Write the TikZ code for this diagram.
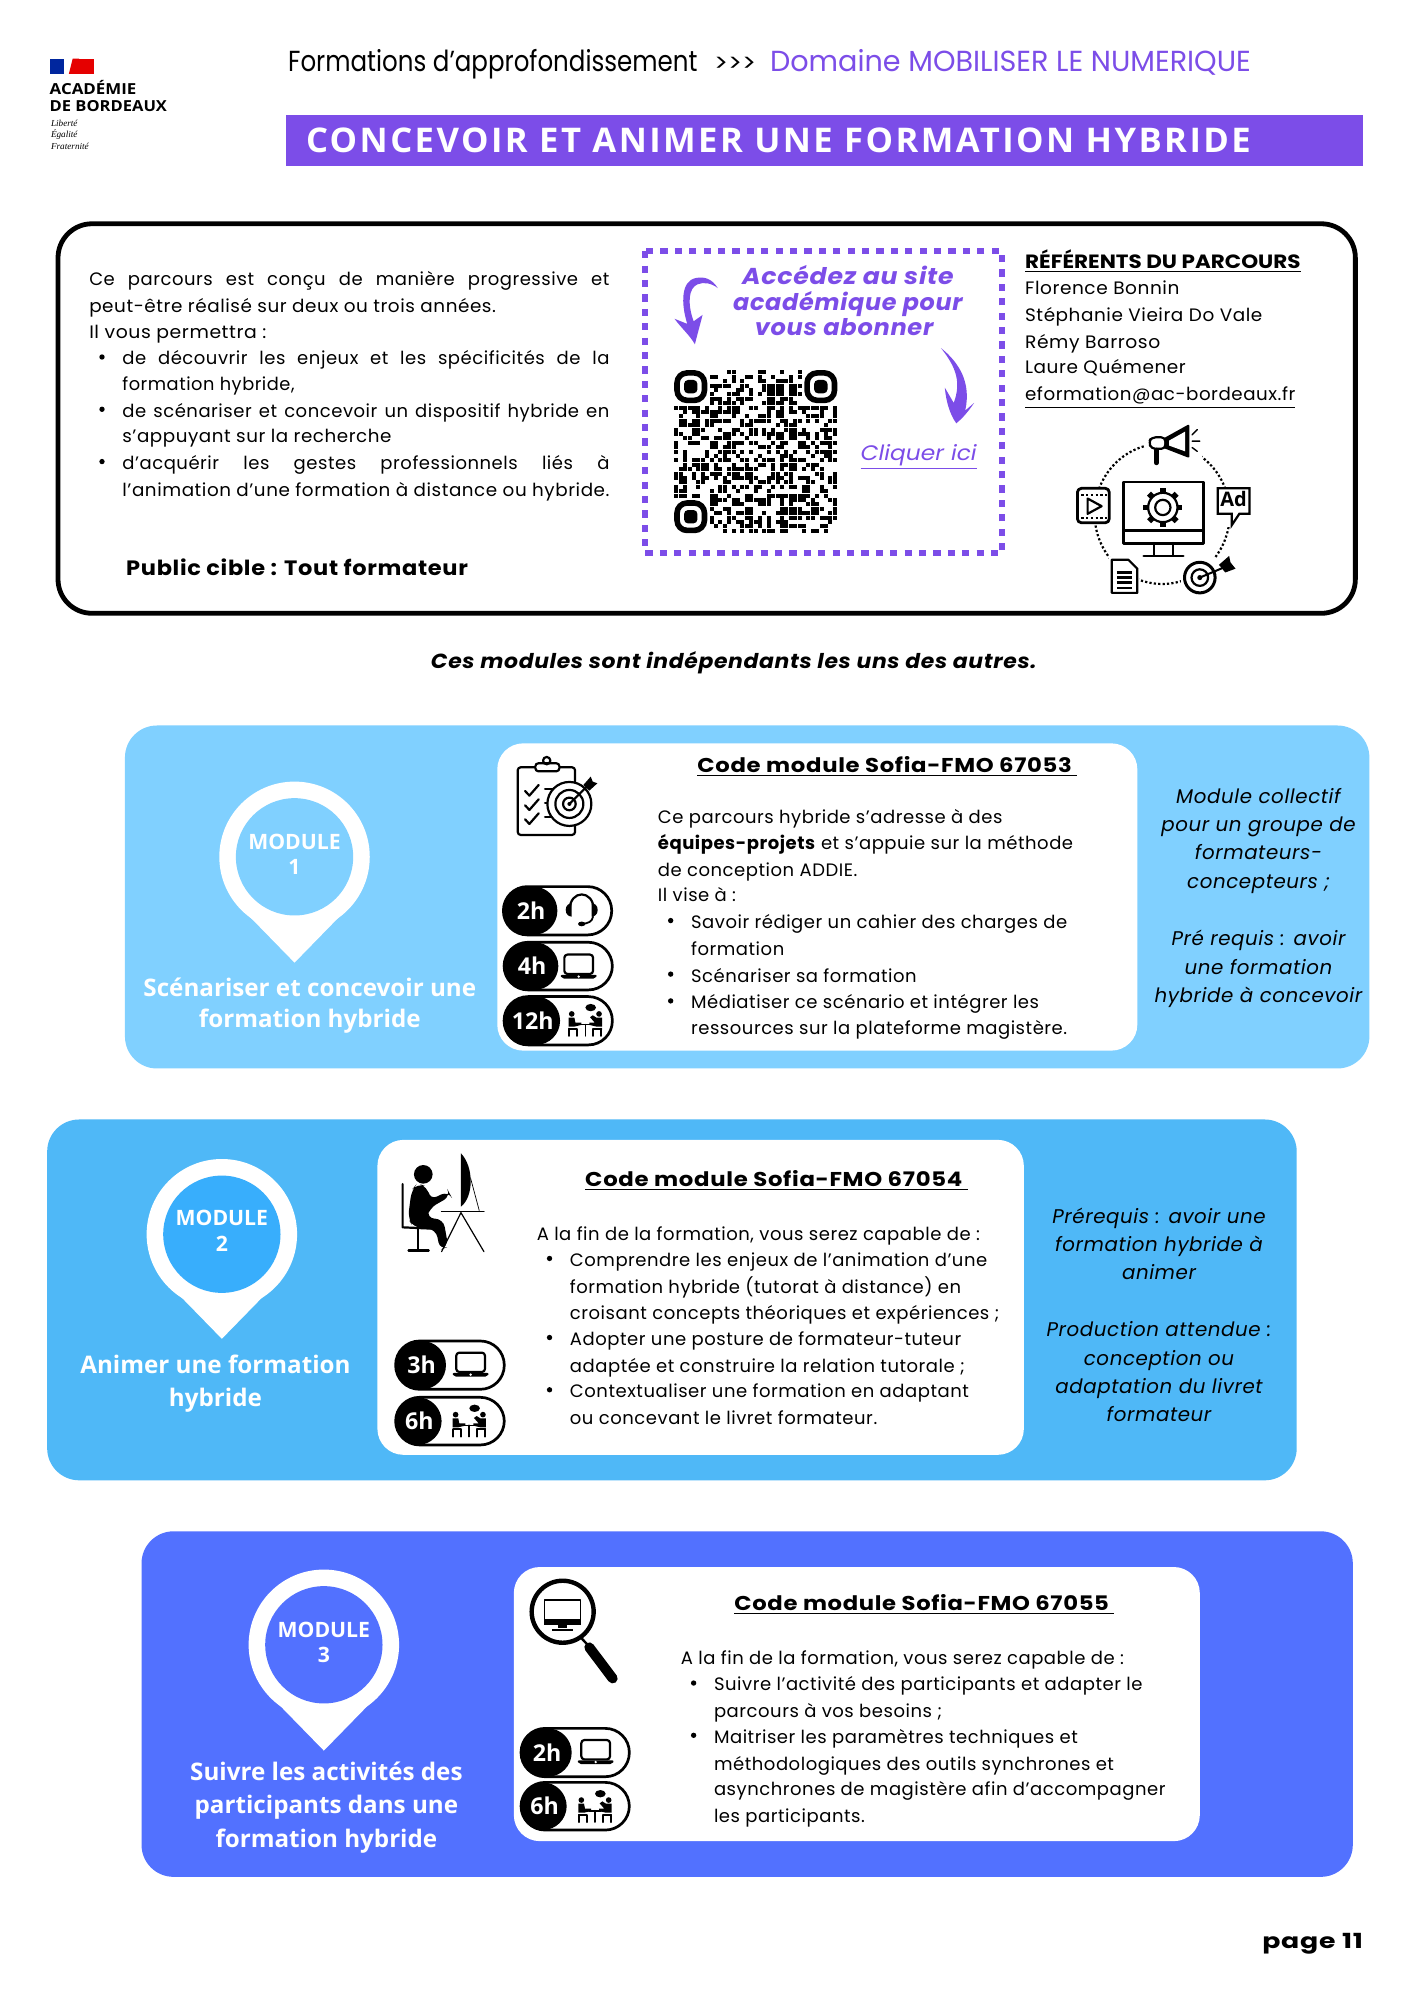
\documentclass[tikz,border=0pt]{standalone}
\usepackage{fontspec}
\usepackage{graphicx}
\setmainfont{Poppins}
\newfontfamily\spaced[LetterSpace=3]{Poppins}
\newfontfamily\wide[LetterSpace=6]{Poppins}
\newfontfamily\banf[LetterSpace=7]{Open Sans}
\newfontfamily\opens{Open Sans}
\newfontfamily\serifl{Liberation Serif}
\usetikzlibrary{calc}
\definecolor{purp}{HTML}{7C4DE8}
\definecolor{cone}{HTML}{80D0FF}
\definecolor{ctwo}{HTML}{4FB8F7}
\definecolor{ctwoin}{HTML}{38AEFC}
\definecolor{cthree}{HTML}{5271FF}
\newdimen\ux \ux=0.6375pt
\newcounter{tn}
\tikzset{
 txt/.style={inner sep=0pt,outer sep=0pt,font=\fontsize{9}{11}\selectfont\spaced,text=black},
 stxt/.style={txt},
 wtitle/.style={txt,text=white,font=\fontsize{12.1}{14}\selectfont\opens\bfseries},
 modtxt/.style={txt,text=white,font=\fontsize{10.6}{12}\selectfont\opens\bfseries},
 side/.style={txt,font=\fontsize{9.9}{11}\selectfont\spaced\itshape},
 card/.style={rounded corners=16pt,draw=none},
 whitecard/.style={fill=white,rounded corners=13pt,draw=none},
 pillline/.style={draw=black,line width=1.35pt,fill=white,rounded corners=12pt},
 blackpart/.style={fill=black,rounded corners=12pt,draw=none},
 ico/.style={line width=1.1pt,draw=black,line cap=round,line join=round},
 thinico/.style={line width=.7pt,draw=black,line cap=round,line join=round},
}
% left aligned, y = line centre
\newcommand\T[4][]{\stepcounter{tn}\node[txt,anchor=base west,#1] (t\thetn) at (#2,{#3+6.2}) {#4};}
% centred
\newcommand\C[4][]{\stepcounter{tn}\node[txt,anchor=base,#1] (t\thetn) at (#2,{#3+6.2}) {#4};}
% justified on a width
\newcommand\J[5][]{\T[#1]{#2}{#3}{\makebox[#4\ux][s]{#5}}}
% text fitted on a width
\newcommand\F[5][]{\T[#1]{#2}{#3}{\resizebox{#4\ux}{\height}{#5}}}
\newcommand\B[2]{\fill (#1,#2) circle (2.1);}
% icons in zoom units
\newcommand\laptop[2]{\begin{scope}[shift={(#1,#2)}]
 \draw[ico,rounded corners=1.5pt] (-43,-36) rectangle (43,22);
 \fill[rounded corners=1pt] (-56,25) -- (56,25) -- (50,36) -- (-50,36) -- cycle;
 \fill[white] (0,30) circle (4);
\end{scope}}
\newcommand\headset[2]{\begin{scope}[shift={(#1,#2)}]
 \draw[ico] (-36,0) .. controls (-36,-62) and (36,-62) .. (36,0);
 \fill (-48,0) .. controls (-48,-14) and (-38,-20) .. (-30,-20) -- (-30,20) .. controls (-38,20) and (-48,14) .. (-48,0) -- cycle;
 \fill (48,0) .. controls (48,-14) and (38,-20) .. (30,-20) -- (30,20) .. controls (38,20) and (48,14) .. (48,0) -- cycle;
 \draw[thinico,line width=.9pt] (34,20) .. controls (32,36) and (18,40) .. (2,42);
 \fill (0,42) ellipse (11 and 7);
\end{scope}}
\newcommand\meeting[2]{\begin{scope}[shift={(#1,#2)}]
 \fill (-41,-18) circle (8.5); \fill (41,-18) circle (8.5);
 \fill (-50,-7) -- (-33,-7) -- (-30,8) -- (-12,8) -- (-12,15) -- (-33,20) -- (-50,20) -- cycle;
 \fill (50,-7) -- (33,-7) -- (22,-14) -- (14,-8) -- (28,8) -- (12,8) -- (12,15) -- (33,20) -- (50,20) -- cycle;
 \draw[thinico,line width=.95pt] (-48,26) -- (-24,26) -- (-24,48);
 \draw[thinico,line width=.95pt] (48,26) -- (24,26) -- (24,48);
 \draw[thinico,line width=.95pt] (-48,26) -- (-48,48);
 \draw[thinico,line width=.95pt] (48,26) -- (48,48);
 \draw[thinico,line width=.8pt] (-18,14) -- (18,14) (0,14) -- (0,48);
 \fill (16,-37) ellipse (16 and 11);
\end{scope}}
% x0 y0 x1 y1 blackend text
\newcommand\pill[6]{
 \draw[pillline] (#1,#2) rectangle (#3,#4);
 \fill[blackpart] (#1,#2) rectangle (#5,#4);
 \stepcounter{tn}
 \node[txt,text=white,font=\fontsize{11.6}{12}\selectfont\opens\bfseries,anchor=center,xshift=.4pt] (t\thetn) at ({(#1+#5)/2},{(#2+#4)/2}) {#6};
}
\begin{document}
\begin{tikzpicture}[x=0.6375pt,y=-0.6375pt]
\useasboundingbox (0,0) rectangle (1109,1568.6);
\fill[white] (0,0) rectangle (1109,1568.6);

%%% logo
\fill[blue!55!black!85!cyan] (39,46) rectangle (50,58);
\fill[red!90!black] (62,46) rectangle (74,58);
\fill[red!90!black] (57,46) -- (62,46) -- (62,58) -- (54,58) -- cycle;
\F[font=\fontsize{7.6}{9}\selectfont\opens\bfseries]{39}{68}{68}{ACADÉMIE}
\F[font=\fontsize{7.6}{9}\selectfont\opens\bfseries]{39}{81}{92}{DE BORDEAUX}
\T[font=\fontsize{4.6}{5}\selectfont\serifl\itshape]{40}{93}{Liberté}
\T[font=\fontsize{4.6}{5}\selectfont\serifl\itshape]{40}{102}{Égalité}
\T[font=\fontsize{4.6}{5}\selectfont\serifl\itshape]{40}{111}{Fraternité}

%%% header
\F[font=\fontsize{14.5}{16}\selectfont]{226}{50}{321}{Formations d’approfondissement}
\F[font=\fontsize{12}{16}\selectfont]{560}{50}{33}{>\kern0pt>\kern0pt>}
\F[font=\fontsize{14.5}{16}\selectfont,text=purp]{604}{50}{377}{Domaine MOBILISER LE NUMERIQUE}
\fill[purp] (224,90) rectangle (1069,130);
\F[font=\fontsize{17}{19}\selectfont\banf\bfseries,text=white]{240}{113.5}{741}{CONCEVOIR ET ANIMER UNE FORMATION HYBRIDE}

%%% main box
\draw[line width=2.4pt,rounded corners=17pt,fill=white] (45.5,175.5) rectangle (1063,481);
\J[stxt]{70}{218}{408}{Ce parcours est conçu de manière progressive et}
\F[stxt]{70}{239}{319}{peut-être réalisé sur deux ou trois années.}
\F[stxt]{70}{259}{139}{Il vous permettra :}
\B{80}{280}\B{80}{321}\B{80}{362}
\J[stxt]{96}{280}{382}{de découvrir les enjeux et les spécificités de la}
\F[stxt]{96}{300}{135}{formation hybride,}
\J[stxt]{96}{321}{382}{de scénariser et concevoir un dispositif hybride en}
\F[stxt]{96}{341}{211}{s’appuyant sur la recherche}
\J[stxt]{96}{362}{382}{d’acquérir les gestes professionnels liés à}
\F[stxt]{96}{383}{382}{l’animation d’une formation à distance ou hybride.}
\F[font=\fontsize{10.4}{12}\selectfont\spaced\bfseries]{99}{445}{268}{Public cible : Tout formateur}

%%% dashed box
\draw[purp,line width=3pt,dash pattern=on 3.6pt off 3.6pt] (506,197) rectangle (786,434);
\F[font=\fontsize{11.5}{14}\selectfont\spaced\bfseries\itshape,text=purp]{582}{217}{166}{Accédez au site}
\F[font=\fontsize{11.5}{14}\selectfont\spaced\bfseries\itshape,text=purp]{575}{237}{180}{académique pour}
\F[font=\fontsize{11.5}{14}\selectfont\spaced\bfseries\itshape,text=purp]{592}{257}{140}{vous abonner}
% curved arrows
\fill[purp] (563,226) .. controls (558,218) and (552,217) .. (546,218) .. controls (534,220) and (534,238) .. (539,254)
 -- (529,250) .. controls (535,258) and (541,263) .. (545,270) .. controls (547,262) and (549,255) .. (551,247) -- (544,252)
 .. controls (539,238) and (540,226) .. (547,223) .. controls (552,221) and (558,222) .. (563,226) -- cycle;
\fill[purp] (738,273) .. controls (752,284) and (762,300) .. (757,322) -- (764,316) .. controls (760,322) and (755,328) .. (750,332)
 .. controls (745,325) and (742,315) .. (741,304) -- (748,316) .. controls (754,300) and (750,288) .. (738,273) -- cycle;

%%% QR
\pgfmathsetseed{4711}
\begin{scope}[shift={(529,290.5)},x=0.6375pt,y=-0.6375pt]
\foreach \i in {0,...,36}{\foreach \j in {0,...,36}{
  \pgfmathsetmacro\rr{rnd}
  \pgfmathtruncatemacro\keep{(\rr<0.55)&&!(\i<8&&\j<8)&&!(\i>28&&\j<8)&&!(\i<8&&\j>28)?1:0}
  \ifnum\keep=1\fill ({\i*3.45},{\j*3.45}) rectangle ({\i*3.45+3.1},{\j*3.45+3.1});\fi
}}
\foreach \a/\b in {0/0,102/0,0/102}{
  \draw[line width=2.8pt,rounded corners=5pt] (\a+2,\b+2) rectangle (\a+23.5,\b+23.5);
  \fill[rounded corners=2pt] (\a+7.5,\b+7.5) rectangle (\a+18,\b+18);
}
\end{scope}
\F[font=\fontsize{10.5}{13}\selectfont\itshape,text=purp]{675}{355}{91}{\underline{Cliquer ici}}

%%% referents
\F[font=\fontsize{9.6}{12}\selectfont\bfseries]{804}{204}{216}{\underline{RÉFÉRENTS DU PARCOURS}}
\F[]{804}{225}{121}{Florence Bonnin}
\F[]{804}{246}{186}{Stéphanie Vieira Do Vale}
\F[]{804}{267}{106}{Rémy Barroso}
\F[]{804}{287}{126}{Laure Quémener}
\F[]{804}{308}{212}{\underline{eformation@ac-bordeaux.fr}}

%%% digital icon
\draw[line width=1.1pt,dash pattern=on 1.1pt off 1.1pt] (911.5,403) ellipse (53 and 55);
\fill[white] (881,378) rectangle (944,435);
\draw[ico,line width=1.4pt] (881,378) rectangle (944,426);
\draw[ico] (881,416) -- (944,416);
\draw[ico,line width=1.4pt] (905,426) -- (905,435) (920,426) -- (920,435) (897,436) -- (928,436);
\foreach \a in {0,45,...,315}{\draw[line width=2.8pt] (912,398)++(\a:11.5) -- ++(\a:3.8);}
\draw[line width=1.1pt] (912,398) circle (11.5); \draw[line width=1.1pt] (912,398) circle (6);
% megaphone
\fill[white] (898,332) rectangle (943,366);
\draw[ico,fill=black] (914,344) -- (932,334) -- (932,358) -- (914,351) -- cycle;
\fill[white] (917,345.5) -- (929.5,338.5) -- (929.5,354) -- (917,349.5) -- cycle;
\draw[ico,rounded corners=2pt] (914,343) -- (903,343) -- (901,347) -- (903,352) -- (914,352) -- cycle;
\draw[line width=2.4pt,line cap=round] (907,353) -- (907,363);
\draw[thinico] (935,341) -- (939,337) (935,346) -- (941,346) (935,351) -- (939,354);
% video
\fill[white,rounded corners=2pt] (844,383) rectangle (871,411);
\draw[ico,line width=1.4pt,rounded corners=2pt] (845,383) rectangle (870,410);
\draw[line width=.9pt,dash pattern=on 1.2pt off 1.2pt] (848,388) -- (868,388) (848,406) -- (868,406);
\draw[ico] (853,391) -- (864,397) -- (853,403) -- cycle;
% Ad
\fill[white] (954,382) rectangle (980,413);
\draw[ico,line join=miter] (955,383) -- (980,383) -- (980,403) -- (972,403) -- (966,412) -- (966,403) -- (955,403) -- cycle;
\C[font=\fontsize{10}{10}\selectfont\opens\bfseries]{967.5}{391}{Ad}
% document
\fill[white] (870,437) rectangle (893,466);
\draw[ico] (872,439) -- (885,439) -- (892,446) -- (892,465) -- (872,465) -- cycle;
\draw[line width=1.2pt] (876,449) -- (888,449) (876,453) -- (888,453) (876,457) -- (888,457) (876,461) -- (888,461);
% target
\fill[white] (926,438) rectangle (970,468);
\draw[line width=1.5pt] (941,453) circle (12); \draw[line width=1.1pt] (941,453) circle (6.5);
\fill (941,453) circle (2);
\draw[line width=1pt] (941,453) -- (960,445);
\fill (956,443) -- (964,436) -- (965,441) -- (969,446) -- (961,449) -- cycle;

%%% centred sentence
\F[font=\fontsize{10.2}{12}\selectfont\spaced\bfseries\itshape]{338}{518}{475}{Ces modules sont indépendants les uns des autres.}

%%%%%%%%%%%% MODULE 1
\fill[cone,card] (98,569) rectangle (1074,838);
\fill[white] (231,672) circle (59);
\fill[white] (191,714) -- (231,755) -- (271,714) -- cycle;
\fill[cone] (231,672) circle (46);
\C[modtxt]{231}{660}{MODULE}
\C[modtxt]{231}{680}{1}
\C[wtitle]{243}{775}{Scénariser et concevoir une}
\C[wtitle]{243}{800}{formation hybride}
\fill[whitecard] (390,583) rectangle (892,824);
\T[font=\fontsize{10}{12}\selectfont\spaced\bfseries]{547}{600}{\resizebox{298\ux}{\height}{\underline{Code module Sofia-FMO 67053\ }}}
\T{516}{640}{Ce parcours hybride s’adresse à des}
\T{516}{660}{\textbf{équipes-projets} et s’appuie sur la méthode}
\T{516}{681}{de conception ADDIE.}
\T{516}{701}{Il vise à :}
\B{526}{722}\B{526}{764}\B{526}{785}
\T{542}{722}{Savoir rédiger un cahier des charges de}
\T{542}{743}{formation}
\T{542}{764}{Scénariser sa formation}
\T{542}{785}{Médiatiser ce scénario et intégrer les}
\T{542}{805}{ressources sur la plateforme magistère.}
\C[side]{987}{624}{Module collectif}
\C[side]{987}{646}{pour un groupe de}
\C[side]{987}{668}{formateurs-}
\C[side]{987}{691}{concepteurs ;}
\C[side]{987}{735}{Pré requis : avoir}
\C[side]{987}{758}{une formation}
\C[side]{987}{780}{hybride à concevoir}
\begin{scope}[shift={(376.5,572.5)},scale=0.2614]
 % clipboard & target
 \draw[ico,rounded corners=1.5pt] (113,112) rectangle (285,315);
 \draw[ico,fill=white,rounded corners=1.5pt] (166,100) rectangle (238,124);
 \draw[ico] (200,92) circle (11);
 \draw[ico] (135,183) -- (148,197) -- (176,165);
 \draw[ico] (135,226) -- (148,240) -- (176,208);
 \draw[ico] (135,268) -- (148,282) -- (176,250);
 \draw[ico] (195,178) -- (230,178) (195,220) -- (215,220) (195,262) -- (230,262);
 \draw[ico,fill=white] (268,222) circle (66);
 \draw[ico] (268,222) circle (42);
 \draw[ico] (268,222) circle (19);
 \fill (268,222) circle (6);
 \draw[ico] (268,222) -- (325,165);
 \fill (310,165) -- (332,140) -- (338,155) -- (352,160) -- (328,182) -- cycle;
 \pill{70}{470}{395}{615}{232}{2h}
 \headset{305}{540}
 \pill{72}{637}{397}{780}{235}{4h}
 \laptop{296}{710}
 \pill{72}{800}{397}{945}{240}{12h}
 \meeting{316}{870}
\end{scope}

%%%%%%%%%%%% MODULE 2
\fill[ctwo,card] (37,878) rectangle (1017,1161);
\fill[white] (174,968) circle (59);
\fill[white] (134,1009) -- (174,1050) -- (214,1009) -- cycle;
\fill[ctwoin] (174,968) circle (46);
\C[modtxt]{174}{955}{MODULE}
\C[modtxt]{174}{975}{2}
\C[wtitle]{169}{1071}{Animer une formation}
\C[wtitle]{169}{1097}{hybride}
\fill[whitecard] (296,894) rectangle (803,1141);
\T[font=\fontsize{10}{12}\selectfont\spaced\bfseries]{459}{924}{\resizebox{300\ux}{\height}{\underline{Code module Sofia-FMO 67054\ }}}
\T{421}{967}{A la fin de la formation, vous serez capable de :}
\B{431}{987}\B{431}{1049}\B{431}{1090}
\T{447}{987}{Comprendre les enjeux de l’animation d’une}
\T{447}{1008}{formation hybride (tutorat à distance) en}
\T{447}{1029}{croisant concepts théoriques et expériences ;}
\T{447}{1049}{Adopter une posture de formateur-tuteur}
\T{447}{1070}{adaptée et construire la relation tutorale ;}
\T{447}{1090}{Contextualiser une formation en adaptant}
\T{447}{1111}{ou concevant le livret formateur.}
\C[side]{909}{953}{Prérequis : avoir une}
\C[side]{909}{975}{formation hybride à}
\C[side]{909}{997}{animer}
\C[side]{909}{1042}{Production attendue :}
\C[side]{909}{1065}{conception ou}
\C[side]{909}{1087}{adaptation du livret}
\C[side]{909}{1109}{formateur}
\begin{scope}[shift={(298,894.1)},scale=0.2614]
 % person at desk
 \fill (130,103) circle (28);
 \fill[rounded corners=4pt] (112,130) -- (143,140) -- (150,180) -- (205,153) -- (213,168) -- (148,205) -- (140,235) -- (190,237) -- (205,320) -- (180,330) -- (168,268) -- (100,262) -- (84,235) -- (95,150) -- cycle;
 \draw[ico] (68,132) -- (68,262) -- (158,266);
 \draw[ico] (115,268) -- (115,327);
 \draw[line width=1.3pt,line cap=round] (86,331) -- (146,331);
 \fill (243,40) .. controls (282,80) and (282,170) .. (243,200) -- cycle;
 \draw[line width=.35pt] (272,115) -- (298,212);
 \draw[thinico,line width=.8pt] (185,215) -- (312,215);
 \draw[thinico,line width=.6pt] (243,218) -- (185,335) (243,218) -- (312,335);
 \pill{47}{603}{373}{748}{198}{3h}
 \laptop{272}{674}
 \pill{47}{772}{373}{915}{185}{6h}
 \meeting{268}{842}
\end{scope}

%%%%%%%%%%%% MODULE 3
\fill[cthree,card] (111,1201) rectangle (1061,1472);
\fill[white] (254,1290) circle (59);
\fill[white] (214,1332) -- (254,1373) -- (294,1332) -- cycle;
\fill[cthree] (254,1290) circle (46);
\C[modtxt]{254}{1278}{MODULE}
\C[modtxt]{254}{1298}{3}
\C[wtitle]{256}{1390}{Suivre les activités des}
\C[wtitle]{256}{1416}{participants dans une}
\C[wtitle]{256}{1443}{formation hybride}
\fill[whitecard] (403,1229) rectangle (941,1444);
\T[font=\fontsize{10}{12}\selectfont\spaced\bfseries]{576}{1257}{\resizebox{298\ux}{\height}{\underline{Code module Sofia-FMO 67055\ }}}
\T{534}{1299}{A la fin de la formation, vous serez capable de :}
\B{544}{1320}\B{544}{1361}
\T{560}{1320}{Suivre l’activité des participants et adapter le}
\T{560}{1341}{parcours à vos besoins ;}
\T{560}{1361}{Maitriser les paramètres techniques et}
\T{560}{1382}{méthodologiques des outils synchrones et}
\T{560}{1402}{asynchrones de magistère afin d’accompagner}
\T{560}{1423}{les participants.}
\begin{scope}[shift={(400,1231.4)},scale=0.2614]
 % magnifier
 \draw[line width=2.2pt] (158,125) circle (93);
 \draw[line width=1.2pt] (215,205) -- (240,232);
 \draw[line width=5pt,line cap=round] (238,232) -- (308,325);
 \draw[thinico] (103,90) rectangle (212,150);
 \fill (103,150) rectangle (212,165);
 \fill (145,165) rectangle (170,175);
 \fill (125,176) rectangle (188,182);
 \pill{33}{475}{358}{620}{185}{2h}
 \laptop{257}{546}
 \pill{33}{637}{358}{780}{170}{6h}
 \meeting{255}{708}
\end{scope}

\F[font=\fontsize{10.4}{12}\selectfont\spaced\bfseries]{990}{1522}{79}{page 11}
\end{tikzpicture}
\end{document}
